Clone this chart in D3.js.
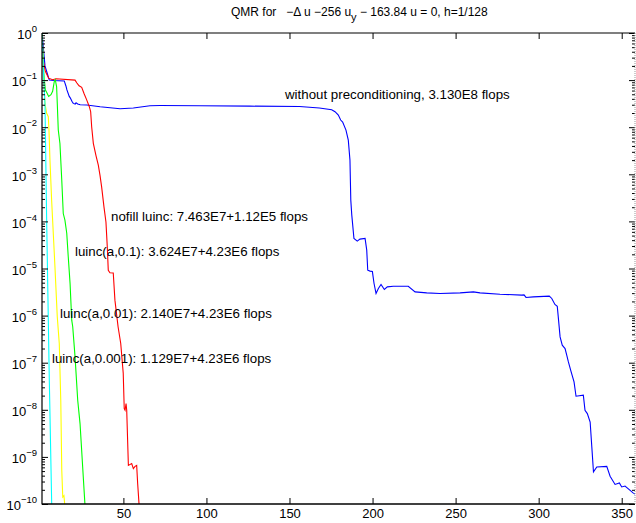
<!DOCTYPE html>
<html>
<head>
<meta charset="utf-8">
<script src="https://cdn.jsdelivr.net/npm/d3@7"></script>
<style>
  body { margin: 0; background: #fff; }
  text { font-family: "Liberation Sans", Arial, sans-serif; fill: #000; }
</style>
</head>
<body>
<div id="chart"></div>
<script>
// residual histories, [iteration, relative residual]
var noPrecond = [[1,1],[2.8,0.2],[4.4,0.13],[5.4,0.1],[8,0.098],[14.4,0.096],[15.4,0.075],[16,0.062],
  [17.4,0.045],[18,0.042],[19.1,0.035],[19.8,0.032],[21,0.031],[21.5,0.033],[22.5,0.031],[24,0.030],
  [28,0.0295],[36,0.0272],[48,0.0247],[56,0.0255],[66,0.0286],[72,0.0288],[96,0.0285],[126,0.028],
  [156,0.0275],[168,0.0255],[175.4,0.0235],[177.4,0.0213],[179.4,0.0181],[180.8,0.0142],[182,0.0129],
  [184,0.0087],[185.4,0.0053],[186.4,0.002],[186.9,2.83e-4],[187.5,1.36e-4],[188.8,4.35e-5],
  [190.8,3.81e-5],[192.4,4.2e-5],[195.5,4.35e-5],[196.5,2.45e-5],[197.1,9.2e-6],[198.5,8.8e-6],
  [199.9,8.6e-6],[200.9,4.8e-6],[202.1,2.95e-6],[203.5,3.77e-6],[205.1,4.58e-6],[207.1,3.59e-6],
  [208.9,4.07e-6],[212.5,4.2e-6],[221.5,4.2e-6],[225.6,3.19e-6],[232.6,3.04e-6],[240.6,2.95e-6],
  [252.7,3.04e-6],[260.7,3.19e-6],[264.7,3.04e-6],[276.7,2.85e-6],[289.8,2.72e-6],[291.2,2.75e-6],
  [292.4,2.43e-6],[296.8,2.5e-6],[306.4,2.59e-6],[307.9,2.31e-6],[309.8,1.72e-6],[311.2,1.58e-6],
  [311.8,9.4e-7],[312.9,3.53e-7],[314.2,2.35e-7],[315.9,2.0e-7],[316.9,1.44e-7],[317.9,1.04e-7],
  [319.3,6.9e-8],[321.3,3.9e-8],[322.5,1.94e-8],[326.9,2.04e-8],[327.9,9.8e-9],[329.3,8.3e-9],
  [331,5.5e-9],[332,1.63e-9],[333,4.8e-10],[335,6.1e-10],[341,6.3e-10],[343,3.9e-10],[346,2.6e-10],
  [348.6,2.8e-10],[350,2.3e-10],[352,2.4e-10],[354,2.1e-10],[357,1.7e-10],[358.6,1.6e-10]];

var nofill = [[1,1],[1.8,0.254],[3,0.154],[5,0.11],[7.4,0.102],[9.4,0.107],[20.9,0.1],[21.9,0.088],
  [23.3,0.076],[24.9,0.070],[26.3,0.052],[27.9,0.038],[29.5,0.0272],[30.3,0.0213],[30.9,0.0102],
  [31.9,0.00454],[33.5,0.0025],[34.9,0.00157],[35.9,9.6e-4],[36.9,5.4e-4],[38.3,2.04e-4],[39.5,9.7e-5],
  [40.3,2.88e-5],[40.9,9.2e-6],[41.9,8.1e-6],[43.9,8.0e-6],[44.9,2.13e-6],[46.8,5.8e-7],[48.4,2.56e-7],
  [49.9,6e-8],[50.5,1.06e-8],[51,9.8e-9],[51.6,1.36e-8],[52,9.8e-9],[53,6.6e-10],[55,7.2e-10],
  [56,5.65e-10],[57,6.3e-10],[58,6.6e-10],[58.6,2.7e-10],[59.6,8e-11]];

var luinc1 = [[1,1],[2,0.15],[3,0.0624],[4,0.053],[5,0.045],[6.4,0.049],[7.4,0.058],[8.4,0.094],
  [9,0.102],[9.8,0.072],[10.2,0.032],[10.8,0.0087],[11.8,0.0045],[12.9,7.5e-4],[13.8,1.47e-4],
  [14.8,1.06e-4],[15.9,5.6e-5],[16.8,1.77e-5],[17.9,4.8e-6],[18.9,8e-7],[19.5,5.8e-7],[20.9,1.33e-7],
  [22.5,1.6e-8],[23.9,5.1e-9],[27,8e-11]];

var luinc01 = [[1,1],[2,0.12],[2.8,0.032],[3.8,0.0197],[4.8,0.0167],[5.2,0.0087],[5.8,0.002],
  [6.8,2.8e-4],[7.4,1.06e-4],[8.8,1.08e-5],[10.2,9.4e-7],[11.4,2.56e-7],[12.3,1.6e-8],[12.9,5.2e-10],
  [13.5,1.4e-10],[14.2,1.5e-10],[14.9,8e-11]];

var luinc001 = [[1,1],[2,0.12],[2.8,0.03],[3.8,1.1e-4],[5.4,4.25e-8],[6.9,8e-11]];

var seriesColors = ["#0000ff", "#ff0000", "#00ff00", "#ffff00", "#00ffff"];
var xTicks = [50, 100, 150, 200, 250, 300, 350];
var yExp = [0, -1, -2, -3, -4, -5, -6, -7, -8, -9, -10];

var width = 636, height = 523;
// note: "top" is taken by window.top, so use pl/pr/pt/pb
var pl = 42, pr = 635, pt = 33, pb = 504;

var x = d3.scaleLinear().domain([1, 358]).range([pl, pr]);
var y = d3.scaleLog().domain([1e-10, 1]).range([pb, pt]);

var svg = d3.select("#chart").append("svg")
  .attr("width", width)
  .attr("height", height);

svg.append("clipPath").attr("id", "plotclip")
  .append("rect")
  .attr("x", pl).attr("y", pt)
  .attr("width", pr - pl).attr("height", pb - pt);

// curves
var line = d3.line().x(d => x(d[0])).y(d => y(d[1]));
var curves = svg.append("g").attr("clip-path", "url(#plotclip)");
[noPrecond, nofill, luinc1, luinc01, luinc001].forEach(function (s, i) {
  curves.append("path")
    .datum(s)
    .attr("fill", "none")
    .attr("stroke", seriesColors[i])
    .attr("stroke-width", 1.1)
    .attr("d", line);
});

// minor log ticks
var minor = [];
for (var e = -10; e < 0; e++) {
  for (var m = 2; m <= 9; m++) minor.push(m * Math.pow(10, e));
}
var yMajor = yExp.map(e => Math.pow(10, e));

function clean(g) { g.select(".domain").remove(); }

svg.append("g").attr("transform", "translate(" + pl + ",0)")
  .call(d3.axisLeft(y).tickValues(minor).tickSizeInner(-3).tickSizeOuter(0).tickFormat(""))
  .call(clean);
svg.append("g").attr("transform", "translate(" + pr + ",0)")
  .call(d3.axisRight(y).tickValues(minor).tickSizeInner(-3).tickSizeOuter(0).tickFormat(""))
  .call(clean);
svg.append("g").attr("transform", "translate(" + pr + ",0)")
  .call(d3.axisRight(y).tickValues(yMajor).tickSizeInner(-6).tickSizeOuter(0).tickFormat(""))
  .call(clean);

var yAxisG = svg.append("g").attr("transform", "translate(" + pl + ",0)")
  .call(d3.axisLeft(y).tickValues(yMajor).tickSizeInner(-6).tickSizeOuter(0).tickPadding(5).tickFormat(""))
  .call(clean);

yAxisG.selectAll(".tick text").each(function (d) {
  var t = d3.select(this)
    .attr("font-size", "13px")
    .attr("font-family", null)
    .attr("dy", "0.45em");
  var ex = Math.round(Math.log10(d));
  t.append("tspan").text("10");
  t.append("tspan")
    .attr("font-size", "9.5px")
    .attr("dy", "-0.75em")
    .text(ex === 0 ? "0" : "\u2212" + (-ex));
});

svg.append("g").attr("transform", "translate(0," + pb + ")")
  .call(d3.axisBottom(x).tickValues(xTicks).tickSizeInner(-6).tickSizeOuter(0).tickPadding(5).tickFormat(d3.format("d")))
  .call(clean)
  .selectAll("text")
  .attr("font-size", "13px")
  .attr("font-family", null);

svg.append("g").attr("transform", "translate(0," + pt + ")")
  .call(d3.axisTop(x).tickValues(xTicks).tickSizeInner(-6).tickSizeOuter(0).tickFormat(""))
  .call(clean);

svg.selectAll(".tick line").attr("stroke", "#000");

// frame
svg.append("line").attr("x1", pl).attr("x2", pl).attr("y1", pt).attr("y2", pb + 0.5)
  .attr("stroke", "#000").attr("stroke-width", 1.2);
svg.append("line").attr("x1", pl).attr("x2", pr).attr("y1", pb).attr("y2", pb)
  .attr("stroke", "#000").attr("stroke-width", 1.5);
svg.append("line").attr("x1", pl).attr("x2", pr).attr("y1", pt).attr("y2", pt)
  .attr("stroke", "#000").attr("stroke-width", 1.2);
svg.append("line").attr("x1", pr).attr("x2", pr).attr("y1", pt).attr("y2", pb)
  .attr("stroke", "#999").attr("stroke-width", 1).attr("stroke-dasharray", "1,1");

// annotations
var notes = [
  { text: "without preconditioning, 3.130E8 flops", x: 285, y: 99 },
  { text: "nofill luinc: 7.463E7+1.12E5 flops", x: 111, y: 221 },
  { text: "luinc(a,0.1): 3.624E7+4.23E6 flops", x: 75, y: 256 },
  { text: "luinc(a,0.01): 2.140E7+4.23E6 flops", x: 60, y: 318 },
  { text: "luinc(a,0.001): 1.129E7+4.23E6 flops", x: 52, y: 363 }
];
svg.selectAll(".note").data(notes).enter().append("text")
  .attr("class", "note")
  .attr("x", d => d.x)
  .attr("y", d => d.y)
  .attr("font-size", "13.3px")
  .text(d => d.text);

// title
var title = svg.append("text")
  .attr("x", 231)
  .attr("y", 16)
  .attr("font-size", "12px")
  .attr("xml:space", "preserve");
title.append("tspan").text("QMR for   \u2212\u0394 u \u2212256 u");
title.append("tspan").attr("dy", 5).attr("font-size", "11px").text("y");
title.append("tspan").attr("dy", -5).text(" \u2212 163.84 u = 0, h=1/128");
</script>
</body>
</html>
